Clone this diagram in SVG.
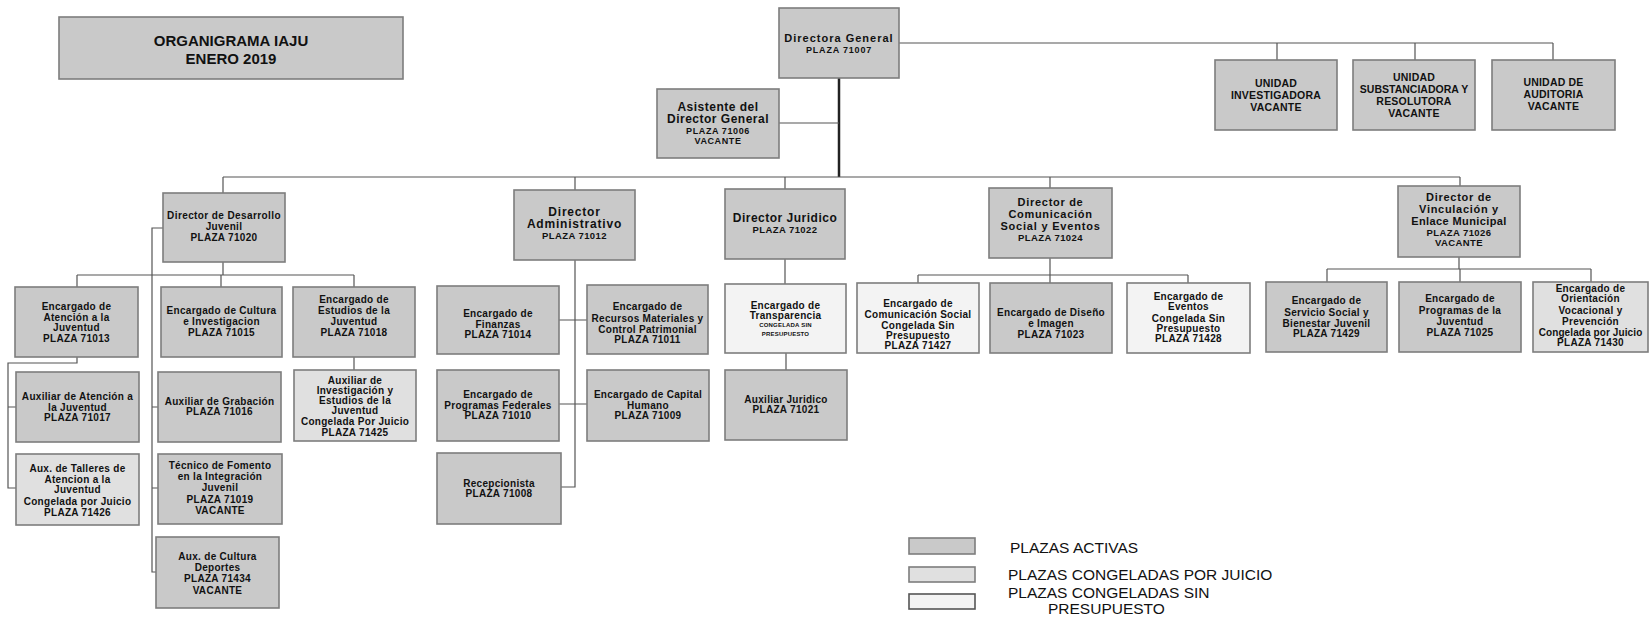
<svg xmlns="http://www.w3.org/2000/svg" width="1650" height="620" viewBox="0 0 1650 620">
<style>
.bx{stroke:#7d7d7d;stroke-width:1.6}
.a{fill:#c9c9c9}
.j{fill:#e0e0e0}
.s{fill:#f3f3f3}
.t{font-family:"Liberation Sans",Arial,sans-serif;font-weight:bold;font-size:10px;letter-spacing:0.3px;text-anchor:middle;fill:#111}
.d{font-size:11px;letter-spacing:0.7px}
.b{font-size:12px;letter-spacing:0.8px}
.p{font-size:9.5px;letter-spacing:0.4px}
.u{font-size:10.5px;letter-spacing:0.2px}
.tiny{font-size:6px;letter-spacing:0.2px}
.lg{font-family:"Liberation Sans",Arial,sans-serif;font-size:15.5px;fill:#111}
.ln{fill:none;stroke:#555;stroke-width:1.2}
.tr{fill:none;stroke:#222;stroke-width:2.5}
</style>
<rect width="1650" height="620" fill="#ffffff"/>
<g id="connectors">
<path class="ln" d="M899,43 H1553 M1277,43 V60 M1415,43 V60 M1553,43 V60"/>
<path class="tr" d="M839,78 V177"/>
<path class="ln" d="M779,123 H839"/>
<path class="ln" d="M223,177 H1460 M223,177 V193 M575,177 V190 M785,177 V189 M1050,177 V188 M1460,177 V186"/>
<path class="ln" d="M223,262 V275 M77,275 H354 M77,275 V287 M221,275 V287 M354,275 V287"/>
<path class="ln" d="M77,357 V363 H8 V488 H16 M8,407 H16"/>
<path class="ln" d="M354,357 V370"/>
<path class="ln" d="M163,228 H152 V572 H156 M152,488 H158 M152,407 H158"/>
<path class="ln" d="M575,260 V487 H561 M559,320 H587 M559,404 H587"/>
<path class="ln" d="M785,259 V284 M786,353 V370"/>
<path class="ln" d="M1050,258 V275 M918,275 H1188 M918,275 V283 M1050,275 V283 M1188,275 V283"/>
<path class="ln" d="M1459,257 V269 M1327,269 H1591 M1327,269 V282 M1460,269 V282 M1591,269 V282"/>
</g>
<g id="title">
<rect class="bx a" x="59" y="17" width="344" height="62"/>
<text class="t" style="font-size:15px;letter-spacing:0" x="231" y="46">ORGANIGRAMA IAJU</text>
<text class="t" style="font-size:15px;letter-spacing:0" x="231" y="64">ENERO 2019</text>
</g>
<g id="directora">
<rect class="bx a" x="779" y="8" width="120" height="70"/>
<text class="t d" style="letter-spacing:1px" x="839" y="42">Directora General</text>
<text class="t" style="font-size:9px;letter-spacing:0.8px" x="839" y="53">PLAZA 71007</text>
</g>
<g id="asistente">
<rect class="bx a" x="657" y="89" width="122" height="69"/>
<text class="t b" style="letter-spacing:0.5px" x="718" y="111">Asistente del</text>
<text class="t b" style="letter-spacing:0.5px" x="718" y="123">Director General</text>
<text class="t" style="font-size:9px;letter-spacing:0.6px" x="718" y="134">PLAZA 71006</text>
<text class="t" style="font-size:9px;letter-spacing:0.6px" x="718" y="144">VACANTE</text>
</g>
<g id="unidad-investigadora">
<rect class="bx a" x="1215" y="60" width="122" height="70"/>
<text class="t u" x="1276" y="87">UNIDAD</text>
<text class="t u" x="1276" y="99">INVESTIGADORA</text>
<text class="t u" x="1276" y="111">VACANTE</text>
</g>
<g id="unidad-substanciadora">
<rect class="bx a" x="1353" y="60" width="122" height="70"/>
<text class="t u" x="1414" y="81">UNIDAD</text>
<text class="t u" style="letter-spacing:0" x="1414" y="93">SUBSTANCIADORA Y</text>
<text class="t u" x="1414" y="105">RESOLUTORA</text>
<text class="t u" x="1414" y="117">VACANTE</text>
</g>
<g id="unidad-auditoria">
<rect class="bx a" x="1492" y="60" width="123" height="70"/>
<text class="t u" x="1553.5" y="86">UNIDAD DE</text>
<text class="t u" x="1553.5" y="98">AUDITORIA</text>
<text class="t u" x="1553.5" y="110">VACANTE</text>
</g>
<g id="dir-desarrollo">
<rect class="bx a" x="163" y="193" width="122" height="69"/>
<text class="t" style="letter-spacing:0.4px" x="224" y="219">Director de Desarrollo</text>
<text class="t" x="224" y="230">Juvenil</text>
<text class="t" x="224" y="241">PLAZA 71020</text>
</g>
<g id="dir-administrativo">
<rect class="bx a" x="514" y="190" width="121" height="70"/>
<text class="t b" x="574.5" y="216">Director</text>
<text class="t b" x="574.5" y="228">Administrativo</text>
<text class="t p" x="574.5" y="239">PLAZA 71012</text>
</g>
<g id="dir-juridico">
<rect class="bx a" x="725" y="189" width="120" height="70"/>
<text class="t b" style="letter-spacing:0.5px" x="785" y="222">Director Juridico</text>
<text class="t p" x="785" y="233">PLAZA 71022</text>
</g>
<g id="dir-comunicacion">
<rect class="bx a" x="989" y="188" width="123" height="70"/>
<text class="t d" x="1050.5" y="206">Director de</text>
<text class="t d" x="1050.5" y="218">Comunicación</text>
<text class="t d" style="letter-spacing:0.8px" x="1050.5" y="230">Social y Eventos</text>
<text class="t p" x="1050.5" y="241">PLAZA 71024</text>
</g>
<g id="dir-vinculacion">
<rect class="bx a" x="1398" y="186" width="122" height="71"/>
<text class="t d" x="1459" y="201">Director de</text>
<text class="t d" x="1459" y="213">Vinculación y</text>
<text class="t d" style="letter-spacing:0.4px" x="1459" y="225">Enlace Municipal</text>
<text class="t p" x="1459" y="236">PLAZA 71026</text>
<text class="t p" x="1459" y="246">VACANTE</text>
</g>
<g id="enc-atencion">
<rect class="bx a" x="15" y="287" width="123" height="70"/>
<text class="t" x="76.5" y="310">Encargado de</text>
<text class="t" x="76.5" y="321">Atención a la</text>
<text class="t" x="76.5" y="331">Juventud</text>
<text class="t" x="76.5" y="342">PLAZA 71013</text>
</g>
<g id="enc-cultura">
<rect class="bx a" x="161" y="287" width="121" height="70"/>
<text class="t" x="221.5" y="314">Encargado de Cultura</text>
<text class="t" x="221.5" y="325">e Investigacion</text>
<text class="t" x="221.5" y="336">PLAZA 71015</text>
</g>
<g id="enc-estudios">
<rect class="bx a" x="293" y="287" width="122" height="70"/>
<text class="t" x="354" y="303">Encargado de</text>
<text class="t" x="354" y="314">Estudios de la</text>
<text class="t" x="354" y="325">Juventud</text>
<text class="t" x="354" y="336">PLAZA 71018</text>
</g>
<g id="aux-atencion">
<rect class="bx a" x="16" y="372" width="123" height="70"/>
<text class="t" x="77.5" y="400">Auxiliar de Atención a</text>
<text class="t" x="77.5" y="411">la Juventud</text>
<text class="t" x="77.5" y="421">PLAZA 71017</text>
</g>
<g id="aux-grabacion">
<rect class="bx a" x="158" y="372" width="123" height="70"/>
<text class="t" x="219.5" y="405">Auxiliar de Grabación</text>
<text class="t" x="219.5" y="415">PLAZA 71016</text>
</g>
<g id="aux-investigacion">
<rect class="bx j" x="294" y="370" width="122" height="71"/>
<text class="t" x="355" y="384">Auxiliar de</text>
<text class="t" x="355" y="394">Investigación y</text>
<text class="t" x="355" y="404">Estudios de la</text>
<text class="t" x="355" y="414">Juventud</text>
<text class="t" x="355" y="425">Congelada Por Juicio</text>
<text class="t" x="355" y="436">PLAZA 71425</text>
</g>
<g id="aux-talleres">
<rect class="bx j" x="16" y="454" width="123" height="71"/>
<text class="t" x="77.5" y="472">Aux. de Talleres de</text>
<text class="t" x="77.5" y="483">Atencion a la</text>
<text class="t" x="77.5" y="493">Juventud</text>
<text class="t" x="77.5" y="505">Congelada por Juicio</text>
<text class="t" x="77.5" y="516">PLAZA 71426</text>
</g>
<g id="tecnico-fomento">
<rect class="bx a" x="158" y="454" width="124" height="70"/>
<text class="t" x="220" y="469">Técnico de Fomento</text>
<text class="t" x="220" y="480">en la Integración</text>
<text class="t" x="220" y="491">Juvenil</text>
<text class="t" x="220" y="503">PLAZA 71019</text>
<text class="t" x="220" y="514">VACANTE</text>
</g>
<g id="aux-cultura">
<rect class="bx a" x="156" y="537" width="123" height="71"/>
<text class="t" x="217.5" y="560">Aux. de Cultura</text>
<text class="t" x="217.5" y="571">Deportes</text>
<text class="t" x="217.5" y="582">PLAZA 71434</text>
<text class="t" x="217.5" y="594">VACANTE</text>
</g>
<g id="enc-finanzas">
<rect class="bx a" x="437" y="286" width="122" height="68"/>
<text class="t" x="498" y="317">Encargado de</text>
<text class="t" x="498" y="328">Finanzas</text>
<text class="t" x="498" y="338">PLAZA 71014</text>
</g>
<g id="enc-recursos">
<rect class="bx a" x="587" y="285" width="121" height="69"/>
<text class="t" x="647.5" y="310">Encargado de</text>
<text class="t" x="647.5" y="322">Recursos Materiales y</text>
<text class="t" x="647.5" y="333">Control Patrimonial</text>
<text class="t" x="647.5" y="343">PLAZA 71011</text>
</g>
<g id="enc-programas-federales">
<rect class="bx a" x="437" y="370" width="122" height="71"/>
<text class="t" x="498" y="398">Encargado de</text>
<text class="t" x="498" y="409">Programas Federales</text>
<text class="t" x="498" y="419">PLAZA 71010</text>
</g>
<g id="enc-capital-humano">
<rect class="bx a" x="587" y="370" width="122" height="71"/>
<text class="t" x="648" y="398">Encargado de Capital</text>
<text class="t" x="648" y="409">Humano</text>
<text class="t" x="648" y="419">PLAZA 71009</text>
</g>
<g id="recepcionista">
<rect class="bx a" x="437" y="453" width="124" height="71"/>
<text class="t" x="499" y="487">Recepcionista</text>
<text class="t" x="499" y="497">PLAZA 71008</text>
</g>
<g id="enc-transparencia">
<rect class="bx s" x="725" y="284" width="121" height="69"/>
<text class="t" x="785.5" y="309">Encargado de</text>
<text class="t" x="785.5" y="319">Transparencia</text>
<text class="t tiny" x="785.5" y="327">CONGELADA SIN</text>
<text class="t tiny" x="785.5" y="336">PRESUPUESTO</text>
</g>
<g id="aux-juridico">
<rect class="bx a" x="725" y="370" width="122" height="70"/>
<text class="t" x="786" y="403">Auxiliar Juridico</text>
<text class="t" x="786" y="413">PLAZA 71021</text>
</g>
<g id="enc-comunicacion-social">
<rect class="bx s" x="857" y="283" width="122" height="70"/>
<text class="t" x="918" y="307">Encargado de</text>
<text class="t" x="918" y="318">Comunicación  Social</text>
<text class="t" x="918" y="329">Congelada Sin</text>
<text class="t" x="918" y="339">Presupuesto</text>
<text class="t" x="918" y="349">PLAZA 71427</text>
</g>
<g id="enc-diseno">
<rect class="bx a" x="990" y="283" width="122" height="70"/>
<text class="t" x="1051" y="316">Encargado de Diseño</text>
<text class="t" x="1051" y="327">e Imagen</text>
<text class="t" x="1051" y="338">PLAZA 71023</text>
</g>
<g id="enc-eventos">
<rect class="bx s" x="1127" y="283" width="123" height="70"/>
<text class="t" x="1188.5" y="300">Encargado de</text>
<text class="t" x="1188.5" y="310">Eventos</text>
<text class="t" x="1188.5" y="322">Congelada Sin</text>
<text class="t" x="1188.5" y="332">Presupuesto</text>
<text class="t" x="1188.5" y="342">PLAZA 71428</text>
</g>
<g id="enc-servicio-social">
<rect class="bx a" x="1266" y="282" width="121" height="70"/>
<text class="t" x="1326.5" y="304">Encargado de</text>
<text class="t" x="1326.5" y="316">Servicio Social y</text>
<text class="t" x="1326.5" y="327">Bienestar Juvenil</text>
<text class="t" x="1326.5" y="337">PLAZA 71429</text>
</g>
<g id="enc-programas-juventud">
<rect class="bx a" x="1399" y="282" width="122" height="70"/>
<text class="t" x="1460" y="302">Encargado de</text>
<text class="t" x="1460" y="314">Programas de la</text>
<text class="t" x="1460" y="325">Juventud</text>
<text class="t" x="1460" y="336">PLAZA 71025</text>
</g>
<g id="enc-orientacion">
<rect class="bx j" x="1533" y="282" width="115" height="70"/>
<text class="t" x="1590.5" y="292">Encargado de</text>
<text class="t" x="1590.5" y="302">Orientación</text>
<text class="t" x="1590.5" y="314">Vocacional y</text>
<text class="t" x="1590.5" y="325">Prevención</text>
<text class="t" style="letter-spacing:0.1px" x="1590.5" y="336">Congelada por Juicio</text>
<text class="t" x="1590.5" y="346">PLAZA 71430</text>
</g>
<g id="legend">
<rect class="bx a" x="909" y="538" width="66" height="16"/>
<rect class="bx j" x="909" y="567" width="66" height="15"/>
<rect class="bx s" x="909" y="594" width="66" height="15" style="stroke:#555"/>
<text class="lg" x="1010" y="553">PLAZAS ACTIVAS</text>
<text class="lg" x="1008" y="580">PLAZAS CONGELADAS POR  JUICIO</text>
<text class="lg" x="1008" y="598">PLAZAS CONGELADAS SIN</text>
<text class="lg" x="1048" y="614">PRESUPUESTO</text>
</g>
</svg>
